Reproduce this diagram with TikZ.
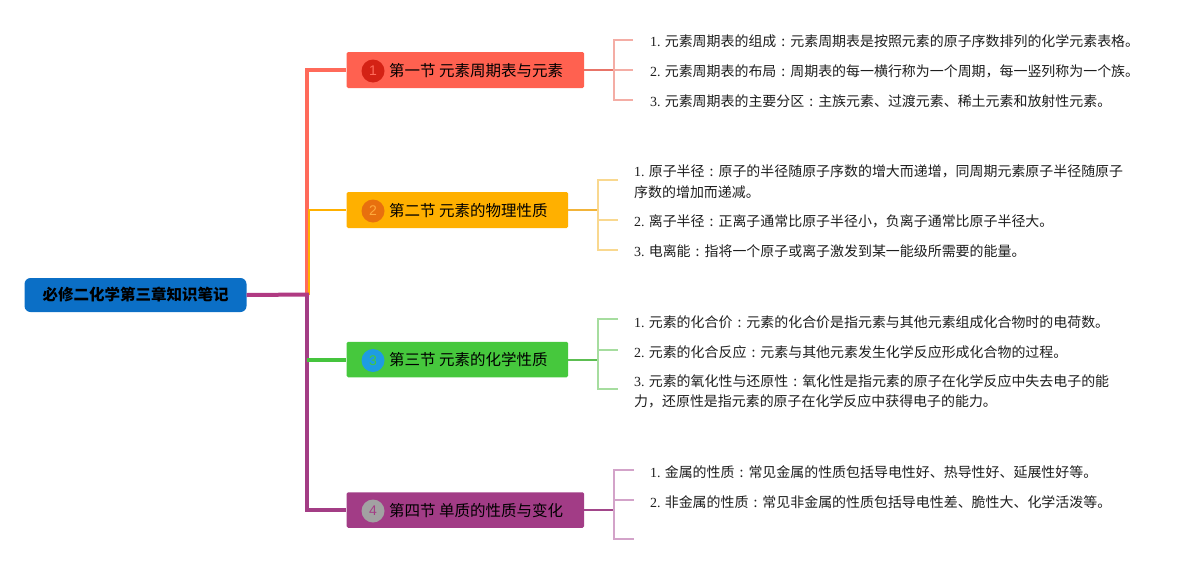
\documentclass[tikz,border=0pt]{standalone}
\usepackage{fontspec}
\setmainfont{Liberation Serif}
\newfontfamily\cjk{Noto Sans CJK SC}
\newfontfamily\numsans{Liberation Sans}
\newcommand\fcolon{\makebox[1em][c]{:}}
\definecolor{rootc}{HTML}{0B6FC6}
\definecolor{cAbox}{HTML}{FF6150}
\definecolor{cBbox}{HTML}{FFB000}
\definecolor{cCbox}{HTML}{46C83D}
\definecolor{cDbox}{HTML}{A23C86}
\definecolor{cAline}{HTML}{FF6A5A}
\definecolor{cBline}{HTML}{FFB000}
\definecolor{cCline}{HTML}{45C43D}
\definecolor{cDline}{HTML}{A33D85}
\definecolor{rootline}{HTML}{B03A82}
\definecolor{cAbadge}{HTML}{D42215}
\definecolor{cAnum}{HTML}{FF6B5B}
\definecolor{cBbadge}{HTML}{E8700E}
\definecolor{cBnum}{HTML}{FFAA3C}
\definecolor{cCbadge}{HTML}{1E9CE2}
\definecolor{cCnum}{HTML}{46C83D}
\definecolor{cDbadge}{HTML}{A2A2A2}
\definecolor{cDnum}{HTML}{A33D85}
\definecolor{cAstem}{HTML}{E87468}
\definecolor{cBstem}{HTML}{F2B43A}
\definecolor{cCstem}{HTML}{5DBE52}
\definecolor{cDstem}{HTML}{A2468A}
\definecolor{cAbrk}{HTML}{F4ADA5}
\definecolor{cBbrk}{HTML}{F9D88F}
\definecolor{cCbrk}{HTML}{A6DD9F}
\definecolor{cDbrk}{HTML}{D3A3C9}
\definecolor{leaftext}{HTML}{1E1E1E}
\begin{document}
\begin{tikzpicture}[x=1pt,y=-1pt,
  box/.style={rectangle, rounded corners=1.5pt, minimum height=36pt, inner sep=0pt},
  lbl/.style={anchor=west, inner sep=0pt, text=black, font=\cjk\fontsize{15.5}{18}\selectfont},
  badge/.style={circle, minimum size=23pt, inner sep=0pt, font=\numsans\fontsize{14}{14}\selectfont},
  leaf/.style={anchor=west, inner sep=0pt, align=left, text=leaftext, font=\cjk\fontsize{13.95}{20.5}\selectfont},
  trunkline/.style={line width=4pt},
  stemline/.style={line width=2pt},
  brkline/.style={line width=1.5pt}]
\useasboundingbox (0,0) rectangle (1199,565);

% root
\node[box, fill=rootc, rounded corners=6pt, minimum width=222pt, minimum height=34pt,
      text=black, font=\cjk\bfseries\fontsize{15.5}{18}\selectfont] (root) at (135.5,295) {必修二化学第三章知识笔记};

% branch boxes
\node[box, fill=cAbox, minimum width=237.4pt] (b1) at (465.3,70) {};
\node[box, fill=cBbox, minimum width=221.4pt] (b2) at (457.3,210) {};
\node[box, fill=cCbox, minimum width=221.4pt, minimum height=35.5pt] (b3) at (457.3,359.5) {};
\node[box, fill=cDbox, minimum width=237.4pt, minimum height=35.5pt] (b4) at (465.3,510) {};

\node[badge, fill=cAbadge, text=cAnum] (n1) at (373,71) {1};
\node[badge, fill=cBbadge, text=cBnum] (n2) at (373,211) {2};
\node[badge, fill=cCbadge, text=cCnum] (n3) at (373,360.5) {3};
\node[badge, fill=cDbadge, text=cDnum] (n4) at (373,511) {4};

\node[lbl] (l1) at (389,70.5) {第一节 元素周期表与元素};
\node[lbl] (l2) at (389,210.5) {第二节 元素的物理性质};
\node[lbl] (l3) at (389,360) {第三节 元素的化学性质};
\node[lbl] (l4) at (389,510.5) {第四节 单质的性质与变化};

% trunk
\coordinate (tr) at (307,294.5);
\draw[trunkline, cAline] (tr) |- (b1.west);
\draw[stemline, cBline] ([xshift=1.5pt]tr) |- (b2.west);
\draw[trunkline, cDline] (tr) |- (b4.west);
\draw[trunkline, cCline] (b3.west -| tr) -- (b3.west);
\draw[trunkline, rootline] (root.east) -- ([xshift=2pt]tr);

% section 1 leaves
\coordinate (j1) at (614,70);
\coordinate (t11) at (633,40);
\coordinate (t12) at (633,70);
\coordinate (t13) at (633,100);
\draw[stemline, cAstem] (b1.east) -- (j1);
\draw[brkline, cAbrk] (t11) -| (j1) |- (t13);
\draw[brkline, cAbrk] (j1) -- (t12);
\node[leaf] (f11) at (650,41.5) {{\rmfamily 1.} 元素周期表的组成\fcolon 元素周期表是按照元素的原子序数排列的化学元素表格。};
\node[leaf] (f12) at (650,71.5) {{\rmfamily 2.} 元素周期表的布局\fcolon 周期表的每一横行称为一个周期，每一竖列称为一个族。};
\node[leaf] (f13) at (650,101.5) {{\rmfamily 3.} 元素周期表的主要分区\fcolon 主族元素、过渡元素、稀土元素和放射性元素。};

% section 2 leaves
\coordinate (j2) at (598,210);
\coordinate (t21) at (618,180);
\coordinate (t22) at (618,220);
\coordinate (t23) at (618,250);
\draw[stemline, cBstem] (b2.east) -- (j2);
\draw[brkline, cBbrk] (t21) -| (j2) |- (t23);
\draw[brkline, cBbrk] (j2) |- (t22);
\node[leaf] (f21) at (634,181.5) {{\rmfamily 1.} 原子半径\fcolon 原子的半径随原子序数的增大而递增，同周期元素原子半径随原子\\序数的增加而递减。};
\node[leaf] (f22) at (634,221.5) {{\rmfamily 2.} 离子半径\fcolon 正离子通常比原子半径小，负离子通常比原子半径大。};
\node[leaf] (f23) at (634,251.5) {{\rmfamily 3.} 电离能\fcolon 指将一个原子或离子激发到某一能级所需要的能量。};

% section 3 leaves
\coordinate (j3) at (598,359.5);
\coordinate (t31) at (618,319);
\coordinate (t32) at (618,350);
\coordinate (t33) at (618,389);
\draw[stemline, cCstem] (b3.east) -- (j3);
\draw[brkline, cCbrk] (t31) -| (j3) |- (t33);
\draw[brkline, cCbrk] (j3) |- (t32);
\node[leaf] (f31) at (634,322.5) {{\rmfamily 1.} 元素的化合价\fcolon 元素的化合价是指元素与其他元素组成化合物时的电荷数。};
\node[leaf] (f32) at (634,352) {{\rmfamily 2.} 元素的化合反应\fcolon 元素与其他元素发生化学反应形成化合物的过程。};
\node[leaf] (f33) at (634,391.5) {{\rmfamily 3.} 元素的氧化性与还原性\fcolon 氧化性是指元素的原子在化学反应中失去电子的能\\力，还原性是指元素的原子在化学反应中获得电子的能力。};

% section 4 leaves
\coordinate (j4) at (614,510);
\coordinate (t41) at (634,470);
\coordinate (t42) at (634,500);
\coordinate (t43) at (634,539);
\draw[stemline, cDstem] (b4.east) -- (j4);
\draw[brkline, cDbrk] (t41) -| (j4) |- (t43);
\draw[brkline, cDbrk] (j4) |- (t42);
\node[leaf] (f41) at (650,472) {{\rmfamily 1.} 金属的性质\fcolon 常见金属的性质包括导电性好、热导性好、延展性好等。};
\node[leaf] (f42) at (650,502) {{\rmfamily 2.} 非金属的性质\fcolon 常见非金属的性质包括导电性差、脆性大、化学活泼等。};
\end{tikzpicture}
\end{document}
